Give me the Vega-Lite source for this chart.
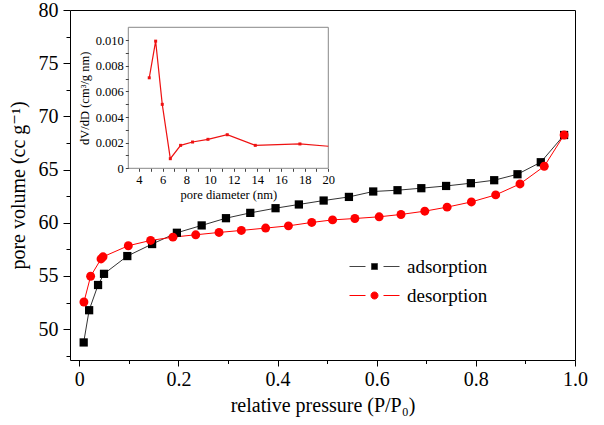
{
  "$schema": "https://vega.github.io/schema/vega-lite/v6.json",
  "width": 505,
  "height": 350,
  "autosize": {"type": "none"},
  "padding": {"left": 70, "top": 10, "right": 29, "bottom": 65},
  "background": "white",
  "config": {
    "font": "Liberation Serif",
    "view": {"stroke": "black", "strokeWidth": 1},
    "axis": {
      "labelFont": "Liberation Serif, Times New Roman, DejaVu Serif, serif",
      "titleFont": "Liberation Serif, Times New Roman, DejaVu Serif, serif",
      "labelColor": "black",
      "titleColor": "black",
      "tickColor": "black",
      "domain": false,
      "grid": false,
      "titleFontWeight": "normal",
      "labelFlush": false,
      "labelOverlap": false,
      "labelBound": false
    }
  },
  "layer": [
    {
      "data": {
        "values": [
          {"p": 0.009, "v": 48.75, "s": "adsorption"},
          {"p": 0.020, "v": 51.78, "s": "adsorption"},
          {"p": 0.038, "v": 54.15, "s": "adsorption"},
          {"p": 0.050, "v": 55.2, "s": "adsorption"},
          {"p": 0.097, "v": 56.87, "s": "adsorption"},
          {"p": 0.147, "v": 58.0, "s": "adsorption"},
          {"p": 0.197, "v": 59.06, "s": "adsorption"},
          {"p": 0.247, "v": 59.75, "s": "adsorption"},
          {"p": 0.296, "v": 60.43, "s": "adsorption"},
          {"p": 0.345, "v": 60.93, "s": "adsorption"},
          {"p": 0.396, "v": 61.37, "s": "adsorption"},
          {"p": 0.443, "v": 61.72, "s": "adsorption"},
          {"p": 0.493, "v": 62.09, "s": "adsorption"},
          {"p": 0.544, "v": 62.43, "s": "adsorption"},
          {"p": 0.593, "v": 62.94, "s": "adsorption"},
          {"p": 0.642, "v": 63.06, "s": "adsorption"},
          {"p": 0.690, "v": 63.25, "s": "adsorption"},
          {"p": 0.740, "v": 63.46, "s": "adsorption"},
          {"p": 0.790, "v": 63.72, "s": "adsorption"},
          {"p": 0.837, "v": 64.0, "s": "adsorption"},
          {"p": 0.884, "v": 64.56, "s": "adsorption"},
          {"p": 0.931, "v": 65.69, "s": "adsorption"},
          {"p": 0.978, "v": 68.25, "s": "adsorption"},
          {"p": 0.0095, "v": 52.55, "s": "desorption"},
          {"p": 0.023, "v": 54.97, "s": "desorption"},
          {"p": 0.044, "v": 56.6, "s": "desorption"},
          {"p": 0.048, "v": 56.8, "s": "desorption"},
          {"p": 0.099, "v": 57.84, "s": "desorption"},
          {"p": 0.144, "v": 58.34, "s": "desorption"},
          {"p": 0.189, "v": 58.65, "s": "desorption"},
          {"p": 0.235, "v": 58.87, "s": "desorption"},
          {"p": 0.282, "v": 59.09, "s": "desorption"},
          {"p": 0.327, "v": 59.28, "s": "desorption"},
          {"p": 0.376, "v": 59.5, "s": "desorption"},
          {"p": 0.422, "v": 59.71, "s": "desorption"},
          {"p": 0.469, "v": 60.03, "s": "desorption"},
          {"p": 0.511, "v": 60.27, "s": "desorption"},
          {"p": 0.556, "v": 60.4, "s": "desorption"},
          {"p": 0.605, "v": 60.56, "s": "desorption"},
          {"p": 0.649, "v": 60.78, "s": "desorption"},
          {"p": 0.697, "v": 61.09, "s": "desorption"},
          {"p": 0.742, "v": 61.47, "s": "desorption"},
          {"p": 0.791, "v": 61.96, "s": "desorption"},
          {"p": 0.840, "v": 62.62, "s": "desorption"},
          {"p": 0.889, "v": 63.65, "s": "desorption"},
          {"p": 0.938, "v": 65.31, "s": "desorption"},
          {"p": 0.978, "v": 68.25, "s": "desorption"}
        ]
      },
      "encoding": {
        "x": {
          "field": "p",
          "type": "quantitative",
          "scale": {"domain": [-0.0186, 1.0], "nice": false, "zero": false},
          "axis": {
            "orient": "bottom",
            "values": [0, 0.1, 0.2, 0.3, 0.4, 0.5, 0.6, 0.7, 0.8, 0.9, 1.0],
            "labelExpr": "round(datum.value*10)%2===0 ? (datum.value===0 ? '0' : format(datum.value,'.1f')) : ''",
            "tickSize": {"condition": {"test": "round(datum.value*10)%2===0", "value": 6}, "value": 3.5},
            "labelFontSize": 20,
            "labelPadding": 3,
            "title": "relative pressure (P/P₀)",
            "titleFontSize": 20,
            "titlePadding": 6
          }
        },
        "y": {
          "field": "v",
          "type": "quantitative",
          "scale": {"domain": [47.1, 80], "nice": false, "zero": false},
          "axis": {
            "orient": "left",
            "values": [47.5, 50, 52.5, 55, 57.5, 60, 62.5, 65, 67.5, 70, 72.5, 75, 77.5, 80],
            "labelExpr": "datum.value%5===0 ? datum.label : ''",
            "tickSize": {"condition": {"test": "datum.value%5===0", "value": 7}, "value": 4},
            "labelFontSize": 20,
            "labelPadding": 5,
            "title": "pore volume (cc g⁻¹)",
            "titleFontSize": 20,
            "titlePadding": 10
          }
        }
      },
      "layer": [
        {
          "transform": [{"filter": "datum.s==='adsorption'"}],
          "mark": {"type": "line", "color": "#333333", "strokeWidth": 1}
        },
        {
          "transform": [{"filter": "datum.s==='desorption'"}],
          "mark": {"type": "line", "color": "#ff0000", "strokeWidth": 1}
        },
        {
          "transform": [{"filter": "datum.s==='adsorption'"}],
          "mark": {"type": "point", "shape": "square", "filled": true, "color": "black", "size": 68, "opacity": 1}
        },
        {
          "transform": [{"filter": "datum.s==='desorption'"}],
          "mark": {"type": "point", "shape": "circle", "filled": true, "color": "#ff0000", "size": 80, "opacity": 1}
        },
        {
          "transform": [{"filter": "datum.p < -1"}],
          "mark": {"type": "point", "filled": true, "opacity": 1, "strokeWidth": 1},
          "encoding": {
            "fill": {
              "field": "s",
              "type": "nominal",
              "scale": {"domain": ["adsorption", "desorption"], "range": ["black", "#ff0000"]},
              "legend": {
                "title": null,
                "orient": "none",
                "legendX": 295,
                "legendY": 247,
                "padding": 0,
                "symbolSize": 100,
                "labelOffset": 23,
                "labelFont": "Liberation Serif, Times New Roman, DejaVu Serif, serif",
                "labelFontSize": 19,
                "labelColor": "black",
                "rowPadding": 9,
                "symbolStrokeWidth": 1,
                "symbolOpacity": 1
              }
            },
            "stroke": {
              "field": "s",
              "type": "nominal",
              "scale": {"domain": ["adsorption", "desorption"], "range": ["#444444", "#ff0000"]},
              "legend": {"title": null}
            },
            "shape": {
              "field": "s",
              "type": "nominal",
              "scale": {
                "domain": ["adsorption", "desorption"],
                "range": [
                  "M-5,0H-1.8M1.8,0H5M-0.6,-0.6H0.6V0.6H-0.6Z",
                  "M-5,0H-1.8M1.8,0H5M0.7,0A0.7,0.7 0 1,1 -0.7,0A0.7,0.7 0 1,1 0.7,0Z"
                ]
              },
              "legend": {"title": null}
            }
          }
        }
      ]
    },
    {
      "data": {
        "values": [
          {"d": 4.87, "g": 0.00706},
          {"d": 5.41, "g": 0.00992},
          {"d": 5.97, "g": 0.00499},
          {"d": 6.65, "g": 0.00075},
          {"d": 7.52, "g": 0.00179},
          {"d": 8.53, "g": 0.00205},
          {"d": 9.83, "g": 0.00226},
          {"d": 11.46, "g": 0.00262},
          {"d": 13.83, "g": 0.00179},
          {"d": 17.6, "g": 0.0019},
          {"d": 20.0, "g": 0.00172}
        ]
      },
      "encoding": {
        "x": {
          "field": "d",
          "type": "quantitative",
          "scale": {"domain": [3.1, 20], "range": [58.3, 258.3], "nice": false, "zero": false},
          "axis": {
            "orient": "bottom",
            "offset": -191.7,
            "values": [4, 5, 6, 7, 8, 9, 10, 11, 12, 13, 14, 15, 16, 17, 18, 19, 20],
            "labelExpr": "datum.value%2===0 ? datum.label : ''",
            "tickSize": 3,
            "tickColor": "#444444",
            "labelFontSize": 12.5,
            "labelPadding": 2,
            "title": "pore diameter (nm)",
            "titleFontSize": 12.5,
            "titlePadding": 3,
            "zindex": 1
          }
        },
        "y": {
          "field": "g",
          "type": "quantitative",
          "scale": {"domain": [0, 0.011], "range": [158.3, 17.3], "nice": false, "zero": false},
          "axis": {
            "orient": "left",
            "offset": -58.3,
            "values": [0, 0.001, 0.002, 0.003, 0.004, 0.005, 0.006, 0.007, 0.008, 0.009, 0.010],
            "labelExpr": "round(datum.value*1000)%2===0 ? (datum.value===0 ? '0' : format(datum.value,'.3f')) : ''",
            "tickSize": 3,
            "tickColor": "#444444",
            "labelFontSize": 12.5,
            "labelPadding": 2,
            "title": "dV/dD (cm³/g nm)",
            "titleFontSize": 12.5,
            "titlePadding": 4,
            "zindex": 1
          }
        }
      },
      "layer": [
        {
          "transform": [{"filter": "datum.d===20"}],
          "mark": {"type": "rect", "fill": "white", "stroke": "#888888", "strokeWidth": 1},
          "encoding": {
            "x": {"datum": 3.1, "type": "quantitative"},
            "x2": {"datum": 20},
            "y": {"datum": 0, "type": "quantitative"},
            "y2": {"datum": 0.011}
          }
        },
        {
          "mark": {"type": "line", "color": "#ee1111", "strokeWidth": 1.2}
        },
        {
          "transform": [{"filter": "datum.d < 19.9"}],
          "mark": {"type": "square", "color": "#ee1111", "size": 9, "opacity": 1}
        }
      ]
    }
  ],
  "resolve": {"scale": {"x": "independent", "y": "independent"}}
}
